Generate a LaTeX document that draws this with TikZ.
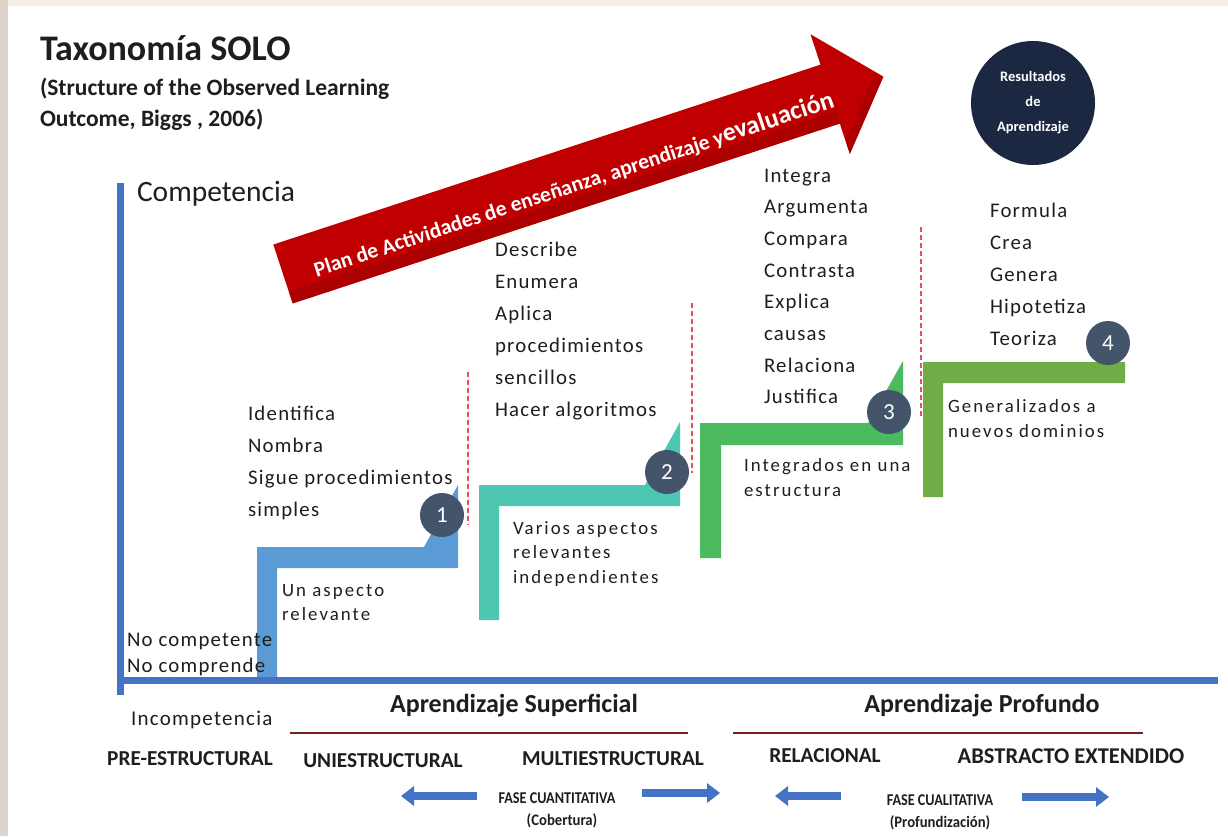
\documentclass[tikz,border=0pt]{standalone}
\usepackage{fontspec}
\setmainfont{Carlito}
\newfontfamily\spaced[LetterSpace=6]{Carlito}
\newfontfamily\widesp[LetterSpace=11]{Carlito}
\usetikzlibrary{arrows.meta}
\definecolor{bgbeige}{RGB}{221,213,203}
\definecolor{bgcream}{RGB}{246,237,226}
\definecolor{axisblue}{RGB}{68,114,196}
\definecolor{stepone}{RGB}{91,155,213}
\definecolor{steptwo}{RGB}{78,199,178}
\definecolor{stepthree}{RGB}{76,187,96}
\definecolor{stepfour}{RGB}{112,173,71}
\definecolor{numcirc}{RGB}{68,84,106}
\definecolor{navy}{RGB}{28,40,65}
\definecolor{planred}{RGB}{192,0,0}
\definecolor{planreddark}{RGB}{160,0,0}
\definecolor{darkline}{RGB}{123,30,30}
\definecolor{dashred}{RGB}{232,80,95}
\definecolor{txt}{RGB}{30,30,30}
\tikzset{
  lst/.style={anchor=base west, text=txt, font=\spaced\fontsize{20.8}{24}\selectfont},
  desc/.style={anchor=base west, text=txt, font=\widesp\fontsize{18.8}{22}\selectfont},
  numc/.style={circle, fill=numcirc, minimum size=44pt, text=white, font=\fontsize{23}{24}\selectfont},
  level/.style={text=txt, font=\bfseries\fontsize{21.3}{24}\selectfont},
  phase/.style={text=txt, font=\bfseries\fontsize{26}{30}\selectfont},
  fase/.style={text=txt, font=\bfseries\fontsize{16.5}{18}\selectfont, xscale=0.86},
  faseb/.style={text=txt, font=\bfseries\fontsize{16}{18}\selectfont, xscale=0.92},
  dashv/.style={dashred, line width=1.3pt, dash pattern=on 5pt off 3pt},
  smallarrow/.style={axisblue, line width=8pt, -{Triangle[length=13pt,width=19pt]}},
}
\begin{document}
\begin{tikzpicture}[x=1pt,y=-1pt, every node/.style={inner sep=0pt, outer sep=0pt}]
\useasboundingbox (0,0) rectangle (1228,836);
\fill[bgcream] (0,0) rectangle (1228,836);
\fill[bgbeige] (0,0) rectangle (8,836);
\fill[white] (8,6) rectangle (1228,836);

% title
\node[anchor=base west, text=txt, font=\bfseries\fontsize{36}{40}\selectfont] (title) at (40,60) {Taxonomía SOLO};
\node[anchor=base west, text=txt, font=\bfseries\fontsize{23.5}{26}\selectfont] (sub1) at (40,95) {(Structure of the Observed Learning};
\node[anchor=base west, text=txt, font=\bfseries\fontsize{23.5}{26}\selectfont] (sub2) at (40,126) {Outcome, Biggs , 2006)};

% red arrow
\begin{scope}[shift={(283,274)}, rotate=18.2]
\fill[planred] (0,-31) -- (576,-31) -- (576,-63) -- (632,0) -- (576,63) -- (576,31) -- (0,31) -- cycle;
\fill[planreddark, opacity=0.6] (0,31) -- (0,18) -- (576,18) -- (576,50) -- (620,0) -- (632,0) -- (576,63) -- (576,31) -- cycle;
\end{scope}
\node[rotate=18.2, text=white, font=\bfseries\fontsize{21.5}{22}\selectfont] (plan) at (574,185)
  {Plan de Actividades de enseñanza, aprendizaje y{\fontsize{26}{26}\selectfont evaluación}};

% results circle
\node[circle, fill=navy, minimum size=124pt] (res) at (1033,103) {};
\node[text=white, font=\bfseries\fontsize{14.5}{25}\selectfont, align=center] (restxt) at (res.center) {Resultados\\de\\Aprendizaje};

% axes
\coordinate (ytop) at (120,183);
\coordinate (ybot) at (120,695);
\coordinate (xl) at (117,680);
\coordinate (xr) at (1218,680);
\node[anchor=base west, text=txt, font=\fontsize{29.5}{30}\selectfont] (comp) at (137,201) {Competencia};

% steps
\fill[stepone] (257,680) -- (257,547) -- (458,547) -- (458,568) -- (277,568) -- (277,680) -- cycle;
\fill[stepone] (458,485) -- (458,547) -- (424,547) -- cycle;
\fill[steptwo] (479,620) -- (479,485) -- (680,485) -- (680,506) -- (499,506) -- (499,620) -- cycle;
\fill[steptwo] (680,422) -- (680,485) -- (645,485) -- cycle;
\fill[stepthree] (700,558) -- (700,423) -- (903,423) -- (903,445) -- (721,445) -- (721,558) -- cycle;
\fill[stepthree] (903,361) -- (903,423) -- (868,423) -- cycle;
\fill[stepfour] (923,497) -- (923,362) -- (1125,362) -- (1125,383) -- (943,383) -- (943,497) -- cycle;

\draw[axisblue, line width=7pt] (ytop) -- (ybot);
\draw[axisblue, line width=7pt] (xl) -- (xr);

% dashed separators
\coordinate (d1a) at (468,372); \coordinate (d1b) at (468,525);
\coordinate (d2a) at (692,303); \coordinate (d2b) at (692,473);
\coordinate (d3a) at (921,227); \coordinate (d3b) at (921,418);
\draw[dashv] (d1a) -- (d1b);
\draw[dashv] (d2a) -- (d2b);
\draw[dashv] (d3a) -- (d3b);

% number circles
\node[numc] (n1) at (442,515) {1};
\node[numc] (n2) at (667,472) {2};
\node[numc] (n3) at (889,412) {3};
\node[numc] (n4) at (1108,343) {4};

% lists
\foreach \t [count=\i] in {Identifica, Nombra, Sigue procedimientos, simples}
  \node[lst] (la\i) at (248,{420+(\i-1)*32}) {\t};
\foreach \t [count=\i] in {Describe, Enumera, Aplica, procedimientos, sencillos, Hacer algoritmos}
  \node[lst] (lb\i) at (495,{256+(\i-1)*32}) {\t};
\foreach \t [count=\i] in {Integra, Argumenta, Compara, Contrasta, Explica, causas, Relaciona, Justifica}
  \node[lst] (lc\i) at (764,{182+(\i-1)*31.7}) {\t};
\foreach \t [count=\i] in {Formula, Crea, Genera, Hipotetiza, Teoriza}
  \node[lst] (ld\i) at (990,{217+(\i-1)*32}) {\t};

% descriptions
\node[desc] (ua1) at (282,596) {Un aspecto};
\node[desc] (ua2) at (282,620) {relevante};
\node[lst] (nc1) at (127,646) {No competente};
\node[lst] (nc2) at (127,672) {No comprende};
\node[desc] (va1) at (513,534) {Varios aspectos};
\node[desc] (va2) at (513,558) {relevantes};
\node[desc] (va3) at (513,583) {independientes};
\node[desc] (ie1) at (744,471) {Integrados en una};
\node[desc] (ie2) at (744,496) {estructura};
\node[desc] (ge1) at (948,412) {Generalizados a};
\node[desc] (ge2) at (948,437) {nuevos dominios};

% bottom labels
\node[anchor=base west, text=txt, font=\spaced\fontsize{21}{24}\selectfont] (incomp) at (131,725) {Incompetencia};
\node[phase] (sup) at (514,706) {Aprendizaje Superficial};
\node[phase] (prof) at (982,706) {Aprendizaje Profundo};
\coordinate (ls1) at (290,733); \coordinate (ls2) at (688,733);
\coordinate (lp1) at (733,733); \coordinate (lp2) at (1143,733);
\draw[darkline, line width=2.5pt] (ls1) -- (ls2);
\draw[darkline, line width=2.5pt] (lp1) -- (lp2);

\node[level] (pre) at (190,759) {PRE-ESTRUCTURAL};
\node[level] (uni) at (383,761) {UNIESTRUCTURAL};
\node[level] (multi) at (613,759) {MULTIESTRUCTURAL};
\node[level] (rel) at (825,756) {RELACIONAL};
\node[level, font=\bfseries\fontsize{22.5}{24}\selectfont] (abs) at (1071,756) {ABSTRACTO EXTENDIDO};

% phase arrows
\coordinate (a1s) at (477,796); \coordinate (a1e) at (401,796);
\coordinate (a2s) at (642,793); \coordinate (a2e) at (720,793);
\coordinate (a3s) at (841,796); \coordinate (a3e) at (775,796);
\coordinate (a4s) at (1022,797); \coordinate (a4e) at (1109,797);
\draw[smallarrow] (a1s) -- (a1e);
\draw[smallarrow] (a2s) -- (a2e);
\draw[smallarrow] (a3s) -- (a3e);
\draw[smallarrow] (a4s) -- (a4e);
\node[fase] (fq) at (557,798) {FASE CUANTITATIVA};
\node[faseb] (fqb) at (562,821) {(Cobertura)};
\node[fase] (fl) at (940,800) {FASE CUALITATIVA};
\node[faseb] (flb) at (940,823) {(Profundización)};
\end{tikzpicture}
\end{document}
